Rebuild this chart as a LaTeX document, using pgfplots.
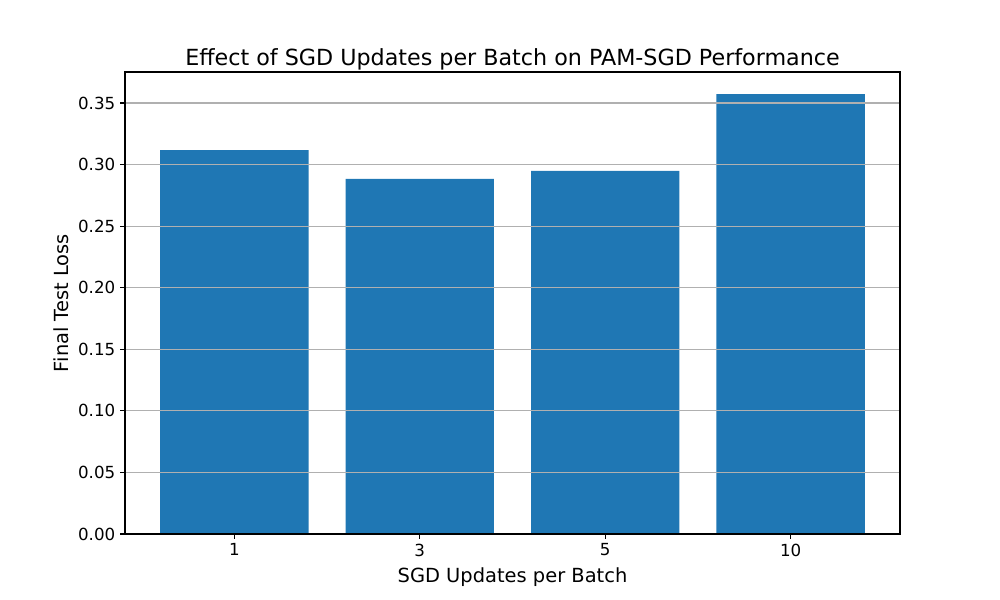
\documentclass[border=0pt]{standalone}
\usepackage{pgfplots}
\pgfplotsset{compat=1.18}
\usepackage{fontspec}
\setmainfont{DejaVu Sans}
\definecolor{barblue}{HTML}{1F77B4}
\definecolor{gridgray}{HTML}{B0B0B0}
\begin{document}
\begin{tikzpicture}
\useasboundingbox (0,0) rectangle (720bp,432bp);
\begin{axis}[
  at={(90bp,47.52bp)}, anchor=south west,
  scale only axis, width=558bp, height=332.64bp,
  xmin=-0.59, xmax=3.59, ymin=0, ymax=0.3752,
  xtick={0,1,2,3}, xticklabels={1,3,5,10},
  ytick={0,0.05,0.1,0.15,0.2,0.25,0.3,0.35},
  yticklabel style={/pgf/number format/.cd, fixed, fixed zerofill, precision=2},
  /pgf/number format/assume math mode=true,
  ticklabel style={font=\fontsize{12bp}{14bp}\selectfont},
  tick align=outside, tick style={black, line width=0.8bp},
  major tick length=3.5bp,
  xtick pos=bottom, ytick pos=left,
  ymajorgrids, grid style={gridgray, line width=0.8bp},
  axis on top,
  axis line style={line width=0.8bp},
  title={Effect of SGD Updates per Batch on PAM-SGD Performance},
  title style={font=\fontsize{16bp}{19bp}\selectfont, yshift=-8bp},
  xlabel={SGD Updates per Batch},
  xlabel style={yshift=-1bp},
  ylabel={Final Test Loss},
  label style={font=\fontsize{14bp}{17bp}\selectfont},
]
\addplot[ybar, bar width=0.8, fill=barblue, draw=none, bar shift=0pt] coordinates {
  (0,0.3118) (1,0.2883) (2,0.2948) (3,0.3573)
};
\end{axis}
\end{tikzpicture}
\end{document}
